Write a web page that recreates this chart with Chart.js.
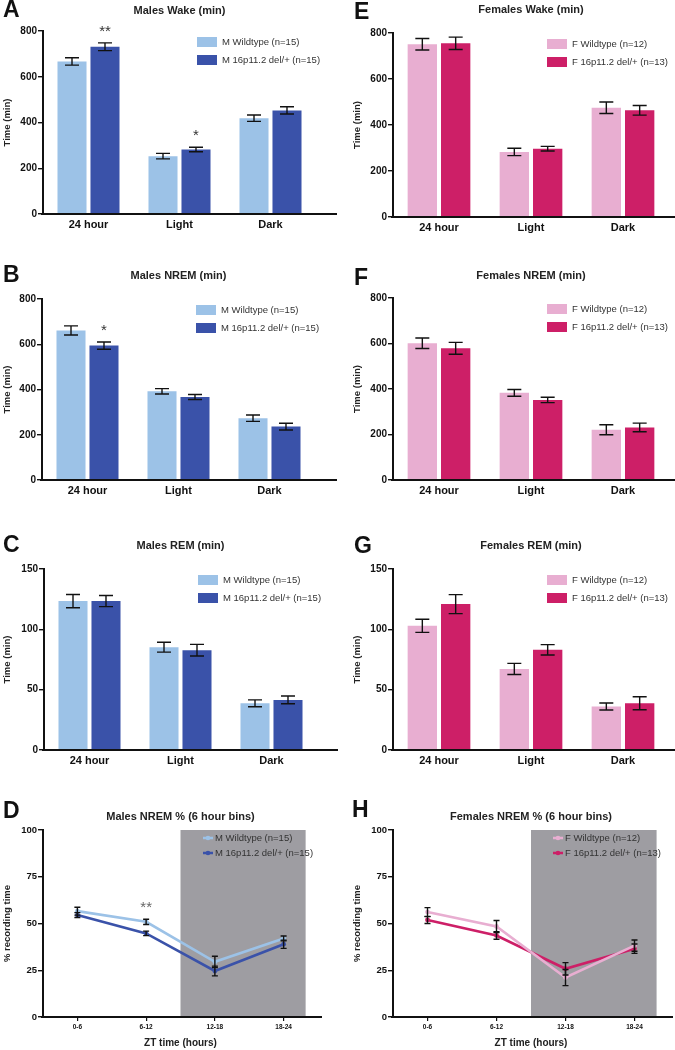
<!DOCTYPE html>
<html lang="en">
<head>
<meta charset="UTF-8">
<title>Sleep in 16p11.2 del/+ mice</title>
<script src="https://cdn.jsdelivr.net/npm/chart.js"></script>
<style>
  body { margin: 0; background: #fff; font-family: 'Liberation Sans', Arial, sans-serif; }
  #page { position: relative; width: 675px; height: 1050px; overflow: hidden; background: #fff; }
  .panel { position: absolute; }
  .letter { position: absolute; font-weight: bold; font-size: 23px; line-height: 1; color: #111; }
  .title { position: absolute; font-weight: bold; font-size: 11px; color: #222; transform: translate(-50%, -50%); white-space: nowrap; }
</style>
</head>
<body>
<div id="page"></div>
<script>
// categories and tick labels
const dayParts = ['24 hour', 'Light', 'Dark'];
const ztBins = ['0-6', '6-12', '12-18', '18-24'];
const minuteTicks = [0, 200, 400, 600, 800];
const remTicks = [0, 50, 100, 150];
const percentTicks = [0, 25, 50, 75, 100];

const maleLabels = ['M Wildtype (n=15)', 'M 16p11.2 del/+ (n=15)'];
const femaleLabels = ['F Wildtype (n=12)', 'F 16p11.2 del/+ (n=13)'];

// A - males wake
const mWakeWt = [667, 253, 419];
const mWakeWtErr = [16, 12, 14];
const mWakeKo = [731, 282, 453];
const mWakeKoErr = [17, 10, 16];
const mWakeStars = ['**', '*', ''];

// E - females wake
const fWakeWt = [751, 283, 475];
const fWakeWtErr = [25, 16, 25];
const fWakeKo = [755, 297, 464];
const fWakeKoErr = [27, 10, 21];

// B - males NREM
const mNremWt = [661, 392, 273];
const mNremWtErr = [20, 12, 14];
const mNremKo = [594, 367, 236];
const mNremKoErr = [16, 11, 15];
const mNremStars = ['*', '', ''];

// F - females NREM
const fNremWt = [601, 383, 221];
const fNremWtErr = [23, 15, 22];
const fNremKo = [579, 352, 231];
const fNremKoErr = [26, 12, 19];

// C - males REM
const mRemWt = [123.4, 85.2, 38.7];
const mRemWtErr = [5.5, 4.1, 2.8];
const mRemKo = [123.4, 82.7, 41.5];
const mRemKoErr = [4.6, 4.8, 3.2];

// G - females REM
const fRemWt = [102.9, 67.2, 36];
const fRemWtErr = [5.4, 4.6, 2.9];
const fRemKo = [120.9, 83, 38.7];
const fRemKoErr = [7.9, 4.3, 5.4];

// D - males NREM % in 6 h bins
const mPctWt = [56.6, 50.9, 29.5, 42];
const mPctWtErr = [2.1, 1.4, 3, 1.3];
const mPctKo = [54.5, 44.7, 24.6, 38.9];
const mPctKoErr = [1.3, 1.2, 2.6, 2.2];
const mPctStars = ['', '**', '', ''];

// H - females NREM % in 6 h bins
const fPctWt = [56.1, 48.4, 21.1, 38.2];
const fPctWtErr = [2.4, 3.2, 4.3, 3];
const fPctKo = [51.9, 43.6, 25.8, 36.5];
const fPctKoErr = [1.9, 2, 3.3, 2.5];

const maleColors = ['#9cc2e7', '#3a52a9'];
const femaleColors = ['#e8aed1', '#cd1f67'];
const FONT = "'Liberation Sans', Arial, sans-serif";

// draws error bars, shaded dark phase, extended x axis, asterisks and legend
const panelPlugin = {
  id: 'panel',
  beforeDatasetsDraw(chart, args, o) {
    if (!o.shade) return;
    const {ctx, chartArea: a, scales: {x}} = chart;
    const x0 = x.getPixelForValue(o.shade[0]);
    const x1 = x.getPixelForValue(o.shade[1]);
    ctx.save();
    ctx.fillStyle = '#9e9da2';
    ctx.fillRect(x0, a.top, x1 - x0, a.bottom - a.top);
    ctx.restore();
  },
  afterDatasetsDraw(chart, args, o) {
    const {ctx, chartArea: a, scales: {y}} = chart;
    ctx.save();
    ctx.strokeStyle = '#111';
    ctx.lineWidth = 1.4;
    o.errors.forEach((errs, di) => {
      const vals = chart.data.datasets[di].data;
      chart.getDatasetMeta(di).data.forEach((el, i) => {
        const top = y.getPixelForValue(vals[i] + errs[i]);
        const bot = y.getPixelForValue(vals[i] - errs[i]);
        const h = o.cap / 2;
        ctx.beginPath();
        ctx.moveTo(el.x, top); ctx.lineTo(el.x, bot);
        ctx.moveTo(el.x - h, top); ctx.lineTo(el.x + h, top);
        ctx.moveTo(el.x - h, bot); ctx.lineTo(el.x + h, bot);
        ctx.stroke();
      });
    });

    // x axis runs past the last category, like the original
    ctx.lineWidth = 2;
    ctx.beginPath();
    ctx.moveTo(a.left - 2, a.bottom);
    ctx.lineTo(o.axisEnd, a.bottom);
    ctx.stroke();

    if (o.stars) {
      const di = o.stars.ds;
      const vals = chart.data.datasets[di].data;
      const errs = o.errors[di];
      ctx.fillStyle = o.stars.color;
      ctx.font = '15px ' + FONT;
      ctx.textAlign = 'center';
      ctx.textBaseline = 'middle';
      chart.getDatasetMeta(di).data.forEach((el, i) => {
        const s = o.stars.labels[i];
        if (!s) return;
        ctx.fillText(s, el.x, y.getPixelForValue(vals[i] + errs[i]) - 11);
      });
    }

    // legend
    ctx.font = '9.5px ' + FONT;
    ctx.textAlign = 'left';
    ctx.textBaseline = 'middle';
    chart.data.datasets.forEach((ds, i) => {
      const c = ds.borderColor;
      if (o.legend === 'box') {
        const ly = a.top + 11 + i * 18;
        ctx.fillStyle = ds.backgroundColor;
        ctx.fillRect(a.left + 154, ly - 5, 20, 10);
        ctx.fillStyle = '#333';
        ctx.fillText(ds.label, a.left + 179, ly);
      } else {
        const ly = a.top + 8 + i * 15;
        ctx.strokeStyle = c;
        ctx.lineWidth = 2.5;
        ctx.beginPath();
        ctx.moveTo(a.left + 160, ly); ctx.lineTo(a.left + 170, ly);
        ctx.stroke();
        ctx.fillStyle = c;
        ctx.beginPath(); ctx.arc(a.left + 165, ly, 2.3, 0, Math.PI * 2); ctx.fill();
        ctx.fillStyle = '#333';
        ctx.fillText(ds.label, a.left + 172, ly);
      }
    });
    ctx.restore();
  }
};

const page = document.getElementById('page');

function addText(cls, text, x, y) {
  const d = document.createElement('div');
  d.className = cls;
  d.textContent = text;
  d.style.left = x + 'px';
  d.style.top = y + 'px';
  page.appendChild(d);
}

// area: absolute chart area (left, top, right, bottom); col: 0 left, 1 right
function makePanel(p) {
  const cx = p.col ? 350 : 0;
  const cw = p.col ? 325 : 340;
  const cy = p.area[1] - 14;
  const ch = p.bottom - cy;
  const l = p.area[0] - cx, t = p.area[1] - cy, r = p.area[2] - cx, b = p.area[3] - cy;

  const wrap = document.createElement('div');
  wrap.className = 'panel';
  wrap.style.cssText = `left:${cx}px;top:${cy}px;width:${cw}px;height:${ch}px;`;
  const canvas = document.createElement('canvas');
  wrap.appendChild(canvas);
  page.appendChild(wrap);

  const isLine = p.type === 'line';
  const datasets = p.series.map((vals, i) => ({
    label: p.labels[i],
    data: vals,
    backgroundColor: p.colors[i],
    borderColor: p.colors[i],
    borderWidth: isLine ? 2.6 : 0,
    pointRadius: 2.4,
    pointBackgroundColor: p.colors[i],
    pointBorderWidth: 0,
    tension: 0,
    categoryPercentage: 0.725,
    barPercentage: 0.88
  }));

  new Chart(canvas, {
    type: p.type,
    data: { labels: p.categories, datasets },
    options: {
      responsive: true,
      maintainAspectRatio: false,
      animation: false,
      layout: { padding: { left: 0, top: t, right: cw - r, bottom: 0 } },
      plugins: {
        legend: { display: false },
        tooltip: { enabled: false },
        panel: {
          errors: p.errors,
          cap: isLine ? 6 : 14,
          axisEnd: p.axisEnd - cx,
          stars: p.stars,
          shade: p.shade,
          legend: isLine ? 'line' : 'box'
        }
      },
      scales: {
        x: {
          offset: true,
          grid: isLine
            ? { display: true, drawOnChartArea: false, offset: false, tickLength: 4, color: '#111', lineWidth: 1.2 }
            : { display: false, drawTicks: false },
          border: { display: false },
          ticks: {
            color: '#111',
            padding: isLine ? 2 : 4,
            maxRotation: 0,
            font: { family: FONT, weight: 'bold', size: isLine ? 6.5 : 11 }
          },
          title: isLine
            ? { display: true, text: 'ZT time (hours)', color: '#222', padding: { top: 0, bottom: 1 },
                font: { family: FONT, weight: 'bold', size: 10 } }
            : { display: false },
          afterFit: s => { s.height = ch - b; }
        },
        y: {
          min: p.ticks[0],
          max: p.ticks[p.ticks.length - 1],
          afterBuildTicks: s => { s.ticks = p.ticks.map(v => ({ value: v })); },
          grid: { drawOnChartArea: false, tickLength: 5, color: '#111', lineWidth: 1.4 },
          border: { color: '#111', width: 2 },
          ticks: {
            color: '#111',
            padding: 1,
            font: { family: FONT, weight: 'bold', size: isLine ? 9.5 : 10 }
          },
          title: {
            display: true,
            text: p.yTitle,
            color: '#222',
            padding: { top: 2, bottom: 0 },
            font: { family: FONT, weight: 'bold', size: 9.5 }
          },
          afterFit: s => { s.width = l; }
        }
      }
    },
    plugins: [panelPlugin]
  });

  addText('letter', p.letter, p.letterPos[0], p.letterPos[1]);
  addText('title', p.title, (p.area[0] + p.area[2]) / 2, p.titleY);
}

const barRows = [
  { letter: 'A', letterPos: [3, -2], title: 'Males Wake (min)', titleY: 10, col: 0,
    area: [43, 31, 316, 214], bottom: 236, axisEnd: 337, ticks: minuteTicks,
    series: [mWakeWt, mWakeKo], errors: [mWakeWtErr, mWakeKoErr], labels: maleLabels, colors: maleColors,
    stars: { ds: 1, labels: mWakeStars, color: '#333' } },
  { letter: 'E', letterPos: [354, 0], title: 'Females Wake (min)', titleY: 9, col: 1,
    area: [393, 33, 669, 217], bottom: 239, axisEnd: 675, ticks: minuteTicks,
    series: [fWakeWt, fWakeKo], errors: [fWakeWtErr, fWakeKoErr], labels: femaleLabels, colors: femaleColors },
  { letter: 'B', letterPos: [3, 263], title: 'Males NREM (min)', titleY: 275, col: 0,
    area: [42, 299, 315, 480], bottom: 502, axisEnd: 337, ticks: minuteTicks,
    series: [mNremWt, mNremKo], errors: [mNremWtErr, mNremKoErr], labels: maleLabels, colors: maleColors,
    stars: { ds: 1, labels: mNremStars, color: '#333' } },
  { letter: 'F', letterPos: [354, 266], title: 'Females NREM (min)', titleY: 275, col: 1,
    area: [393, 298, 669, 480], bottom: 502, axisEnd: 675, ticks: minuteTicks,
    series: [fNremWt, fNremKo], errors: [fNremWtErr, fNremKoErr], labels: femaleLabels, colors: femaleColors },
  { letter: 'C', letterPos: [3, 533], title: 'Males REM (min)', titleY: 545, col: 0,
    area: [44, 569, 317, 750], bottom: 772, axisEnd: 338, ticks: remTicks,
    series: [mRemWt, mRemKo], errors: [mRemWtErr, mRemKoErr], labels: maleLabels, colors: maleColors },
  { letter: 'G', letterPos: [354, 534], title: 'Females REM (min)', titleY: 545, col: 1,
    area: [393, 569, 669, 750], bottom: 772, axisEnd: 675, ticks: remTicks,
    series: [fRemWt, fRemKo], errors: [fRemWtErr, fRemKoErr], labels: femaleLabels, colors: femaleColors }
];
barRows.forEach(p => makePanel(Object.assign({ type: 'bar', categories: dayParts, yTitle: 'Time (min)' }, p)));

const lineRows = [
  { letter: 'D', letterPos: [3, 799], title: 'Males NREM % (6 hour bins)', titleY: 816, col: 0,
    area: [43, 830, 318, 1017], bottom: 1050, axisEnd: 322,
    series: [mPctWt, mPctKo], errors: [mPctWtErr, mPctKoErr], labels: maleLabels, colors: maleColors,
    stars: { ds: 0, labels: mPctStars, color: '#666' } },
  { letter: 'H', letterPos: [352, 798], title: 'Females NREM % (6 hour bins)', titleY: 816, col: 1,
    area: [393, 830, 669, 1017], bottom: 1050, axisEnd: 673,
    series: [fPctWt, fPctKo], errors: [fPctWtErr, fPctKoErr], labels: femaleLabels, colors: femaleColors }
];
lineRows.forEach(p => makePanel(Object.assign({
  type: 'line', categories: ztBins, yTitle: '% recording time', ticks: percentTicks, shade: [1.5, 3.32]
}, p)));
</script>
</body>
</html>
